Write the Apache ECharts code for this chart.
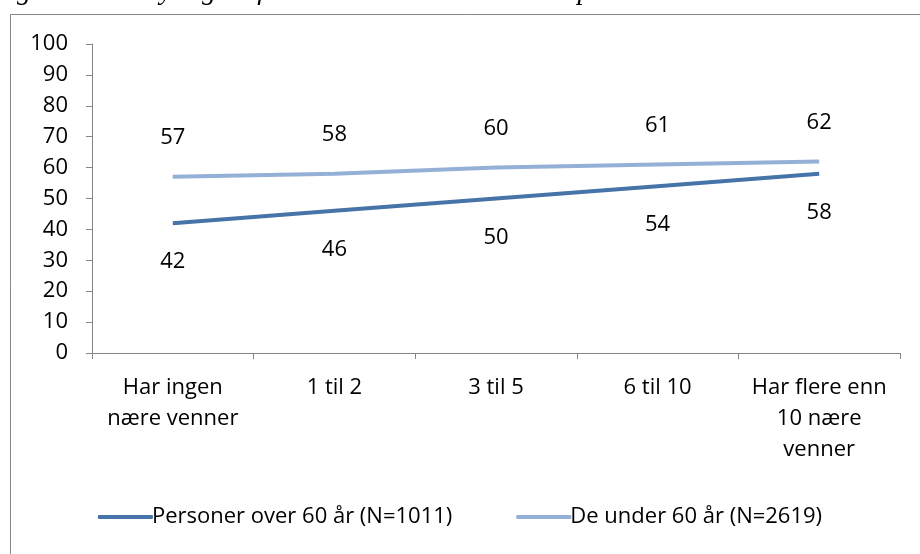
<!DOCTYPE html>
<html>
<head>
<meta charset="utf-8">
<script src="https://cdn.jsdelivr.net/npm/echarts@6/dist/echarts.min.js"></script>
<style>
  html, body { margin: 0; padding: 0; background: #fff; }
  #chart { width: 920px; height: 554px; }
</style>
</head>
<body>
<div id="chart"></div>
<script>
// data
const categories = ['Har ingen\nnære venner', '1 til 2', '3 til 5', '6 til 10', 'Har flere enn\n10 nære\nvenner']
const over60 = [42, 46, 50, 54, 58]
const under60 = [57, 58, 60, 61, 62]
const seriesNames = ['Personer over 60 år (N=1011)', 'De under 60 år (N=2619)']
const titleText = 'Figur 6: Sannsynlighet for deltakelse eller bistvelse på nettverk. Prosent.'

const font = 'Open Sans'
const axisColor = '#868686'
const darkBlue = '#4774a8'
const lightBlue = '#95b0d6'
const fs = 22

const chart = echarts.init(document.getElementById('chart'))
chart.setOption({
  animation: false,
  textStyle: { fontFamily: font },
  graphic: [
    // title cut off at the top of the picture
    {
      type: 'text',
      left: -8,
      top: -22,
      style: {
        text: titleText,
        font: 'italic 28px "Liberation Serif"',
        fill: '#000'
      }
    },
    // chart area frame
    {
      type: 'rect',
      shape: { x: 10.5, y: 14.5, width: 920, height: 560 },
      style: { fill: '#fff', stroke: axisColor, lineWidth: 1 }
    }
  ],
  grid: { left: 92, right: 20, top: 44, bottom: 201 },
  xAxis: {
    type: 'category',
    data: categories,
    boundaryGap: true,
    axisLine: { lineStyle: { color: axisColor } },
    axisTick: { show: true, length: 6, lineStyle: { color: axisColor } },
    axisLabel: {
      color: '#000',
      fontSize: fs,
      lineHeight: 31,
      margin: 19,
      interval: 0
    }
  },
  yAxis: {
    type: 'value',
    min: 0,
    max: 100,
    interval: 10,
    splitLine: { show: false },
    axisLine: { show: true, lineStyle: { color: axisColor } },
    axisTick: { show: true, length: 6, lineStyle: { color: axisColor } },
    axisLabel: { color: '#000', fontSize: fs, margin: 24 }
  },
  legend: {
    bottom: 21,
    left: 'center',
    itemGap: 64,
    itemWidth: 55,
    itemHeight: 4,
    icon: 'roundRect',
    textStyle: { color: '#000', fontSize: fs, fontFamily: font, padding: [0, 0, 0, -6] },
    data: seriesNames
  },
  series: [
    {
      name: seriesNames[0],
      type: 'line',
      data: over60,
      symbol: 'circle',
      symbolSize: 0,
      showSymbol: true,
      lineStyle: { color: darkBlue, width: 4 },
      itemStyle: { color: darkBlue },
      label: { show: true, position: 'bottom', distance: 28, color: '#000', fontSize: fs }
    },
    {
      name: seriesNames[1],
      type: 'line',
      data: under60,
      symbol: 'circle',
      symbolSize: 0,
      showSymbol: true,
      lineStyle: { color: lightBlue, width: 4 },
      itemStyle: { color: lightBlue },
      label: { show: true, position: 'top', distance: 28, color: '#000', fontSize: fs }
    }
  ]
})
</script>
</body>
</html>
